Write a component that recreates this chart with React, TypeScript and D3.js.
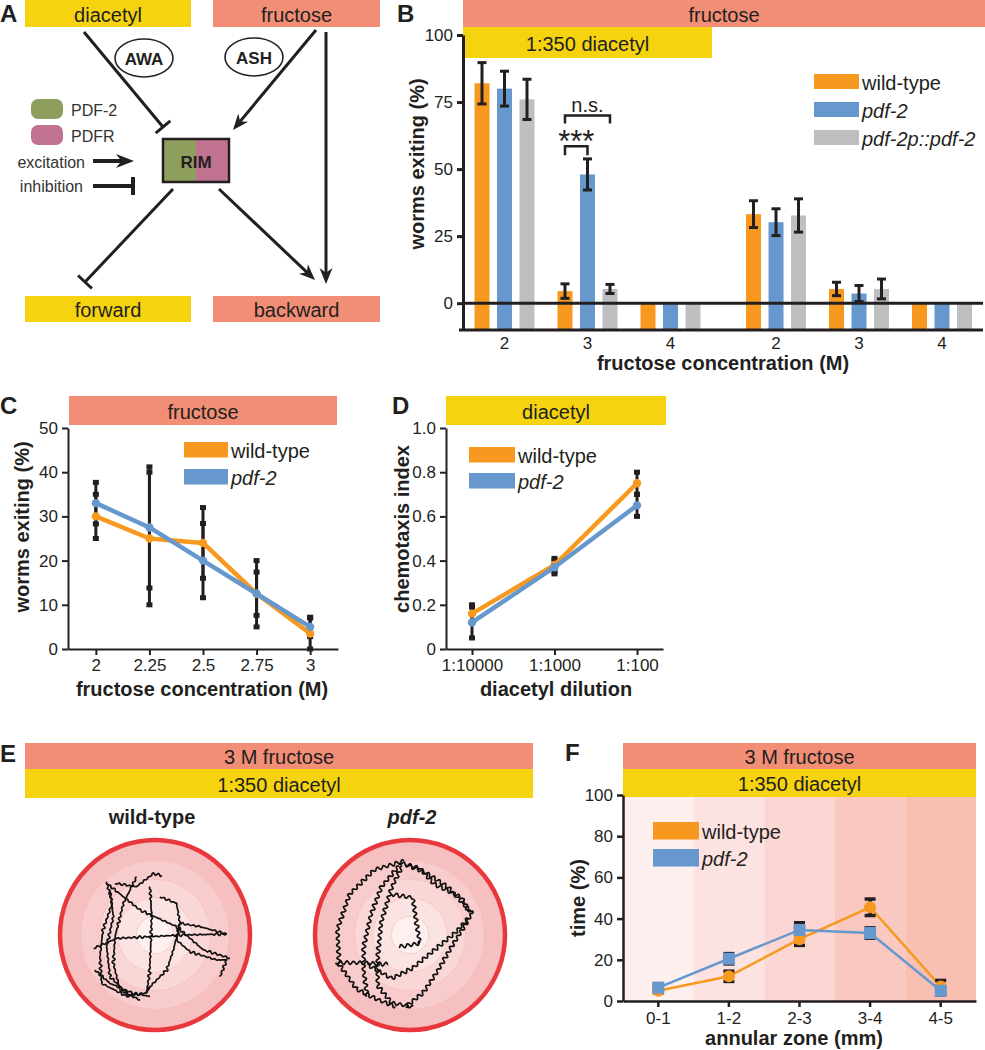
import { useEffect, useRef } from 'react';
import * as d3 from 'd3';

type Pt = [number, number];
type G = d3.Selection<SVGGElement, unknown, null, undefined>;

const FONT = "'Liberation Sans', Arial, Helvetica, sans-serif";
const INK = '#231f20';
const YELLOW = '#f6d30f';
const SALMON = '#f28e75';
const ORANGE = '#f7991f';
const BLUE = '#6698cd';
const GRAY = '#bdbfc1';
const GREEN = '#8e9e5c';
const PINK = '#c07290';
const RED = '#e8383d';

// ---- B: % worms exiting, bars
const genotypesB = ['wild-type', 'pdf-2', 'pdf-2p::pdf-2'];
const colorsB = [ORANGE, BLUE, GRAY];
const conditionsB = ['with diacetyl', 'fructose only'];
const concentrationsB = ['2', '3', '4'];
const wtExitDia = [82, 4.5, 0];
const pdf2ExitDia = [80, 48, 0];
const rescueExitDia = [76, 5.3, 0];
const wtErrDia = [7.7, 2.7, 0];
const pdf2ErrDia = [6.5, 5.8, 0];
const rescueErrDia = [7.5, 1.7, 0];
const wtExitNoDia = [33.2, 5.3, 0];
const pdf2ExitNoDia = [30.2, 3.6, 0];
const rescueExitNoDia = [32.7, 5.3, 0];
const wtErrNoDia = [5, 2.5, 0];
const pdf2ErrNoDia = [5, 3, 0];
const rescueErrNoDia = [6.2, 3.7, 0];
const ticksB = [0, 25, 50, 75, 100];

// ---- C: fructose dose response
const concC = [2, 2.25, 2.5, 2.75, 3];
const wtExitC = [30, 25, 24, 12.5, 3.5];
const wtErrC = [5, 15, 8, 7.5, 3.5];
const pdf2ExitC = [33, 27.5, 20, 12.5, 5];
const pdf2ErrC = [4.7, 13.7, 8.4, 4.9, 2.2];
const ticksC = [0, 10, 20, 30, 40, 50];

// ---- D: diacetyl chemotaxis
const dilutionsD = ['1:10000', '1:1000', '1:100'];
const wtCiD = [0.16, 0.38, 0.75];
const wtCiErrD = [0.04, 0.03, 0.05];
const pdf2CiD = [0.12, 0.37, 0.65];
const pdf2CiErrD = [0.07, 0.03, 0.05];
const ticksD = [0, 0.2, 0.4, 0.6, 0.8, 1.0];

// ---- E: worm tracks (mm from plate centre, y down)
const zoneFillsE = ['#fef0ef', '#fce3e3', '#fad7d7', '#f8cbcc', '#f6bfc0'];
const wtTracks: Pt[][] = [
  [[-2.6, -2.87], [-2.3, -1.7], [-2.8, -0.27], [-2.96, 1.16], [-2.87, 2.6], [-1.5, 3.3], [-0.45, 3.1], [-0.27, 2.8]],
  [[-2.15, -2.78], [-0.99, -2.6], [-0.09, -3.3], [0.36, -3.2]],
  [[-0.99, -3.13], [-1.7, -1.7], [-2.15, 0.09], [-2.24, 1.52], [-1.88, 2.96], [-0.8, 3.5]],
  [[-0.27, -2.6], [-0.18, -0.99], [-0.23, 0.63], [-0.3, 2.06], [-0.45, 3.14]],
  [[-3.3, 0.72], [-2.06, 0.18], [-0.27, 0.09], [1.43, 0], [3.85, -0.05]],
  [[3.85, -0.05], [2.42, -0.45], [1.34, -0.63], [1.16, 0.27], [1.88, 0.9], [3.31, 1.34], [3.85, 1.34], [3.5, 2.24]],
  [[-2.6, -2.78], [-0.8, -1.34], [1.16, -0.45], [2.6, 0.8], [4.03, 1.25]],
  [[0.27, -2.06], [1.16, -1.7], [1.34, -0.63], [0.99, 0.8], [0.63, 1.88], [-0.45, 2.96]],
  [[-3.23, 1.88], [-2.42, 2.6], [-1.16, 3.14], [-0.27, 3.3]],
  [[-2.42, -2.42], [-2.24, -0.99], [-2.6, 0.63], [-2.42, 2.24], [-1.34, 3.31]],
];
const pdf2Tracks: Pt[][] = [
  [[-0.32, -3.98], [-1.92, -3.5], [-3.25, -2.19], [-3.9, -0.3], [-3.81, 1.58], [-2.87, 2.91], [-1.74, 3.47], [-0.79, 3.85]],
  [[-0.6, -3.7], [-1.55, -2.57], [-2.11, -1.06], [-2.49, 0.64], [-2.49, 1.96], [-2.3, 3.28]],
  [[-0.42, -3.7], [-0.98, -2.57], [-1.55, -0.68], [-1.74, 1.21], [-1.74, 2.72], [-0.98, 3.66], [0.15, 3.85]],
  [[-0.23, -3.79], [0.91, -3.32], [2.04, -2.57], [3.36, -1.15]],
  [[3.36, -1.15], [2.42, -0.11], [1.28, 0.83], [0.15, 1.77], [-0.98, 2.34], [-2.3, 1.58]],
  [[3.17, -0.87], [2.23, 0.64], [1.47, 1.96], [0.72, 3.09], [-0.23, 3.85]],
  [[-0.98, -2.19], [0.15, -2.0], [0.34, -0.68], [0.53, 0.45], [-0.6, 0.64]],
  [[-4.0, 1.49], [-2.68, 1.49], [-1.17, 1.58]],
  [[-0.6, -3.89], [0.53, -3.6], [1.28, -2.75], [2.79, -2.0], [3.17, -1.25]],
];

// ---- F: time per annular zone
const zonesF = ['0-1', '1-2', '2-3', '3-4', '4-5'];
const zoneFillsF = ['#fdefee', '#fce2e1', '#fbd6d2', '#f9c9c1', '#f8c0b2'];
const wtTimeF = [5, 12, 30, 45.5, 7];
const wtTimeErrF = [1, 2.5, 3, 4, 3];
const pdf2TimeF = [6.5, 20.5, 34.5, 33, 5];
const pdf2TimeErrF = [1, 2.5, 3.5, 2.5, 2];
const ticksF = [0, 20, 40, 60, 80, 100];

// ---------- helpers
function header(g: G, x0: number, y0: number, x1: number, y1: number, fill: string, label: string) {
  g.append('rect').attr('x', x0).attr('y', y0).attr('width', x1 - x0).attr('height', y1 - y0).attr('fill', fill);
  g.append('text')
    .attr('x', (x0 + x1) / 2).attr('y', (y0 + y1) / 2 + 1)
    .attr('text-anchor', 'middle').attr('dominant-baseline', 'central')
    .attr('font-size', 20).attr('fill', INK).text(label);
}

function letter(g: G, ch: string, x: number, y: number) {
  g.append('text').attr('x', x).attr('y', y).attr('font-size', 24).attr('font-weight', 'bold').attr('fill', INK).text(ch);
}

function styleAxis(a: any, w: number) {
  a.attr('font-family', FONT);
  a.select('.domain').attr('stroke', INK).attr('stroke-width', w);
  a.selectAll('.tick line').attr('stroke', INK).attr('stroke-width', w);
  a.selectAll('.tick text').attr('fill', INK).attr('font-size', 17);
}

function ylabel(g: G, text: string, x: number, y: number) {
  g.append('text').attr('transform', `translate(${x},${y}) rotate(-90)`)
    .attr('text-anchor', 'middle').attr('dominant-baseline', 'central')
    .attr('font-size', 20).attr('font-weight', 'bold').attr('fill', INK).text(text);
}

function xlabel(g: G, text: string, x: number, y: number) {
  g.append('text').attr('x', x).attr('y', y)
    .attr('text-anchor', 'middle').attr('dominant-baseline', 'central')
    .attr('font-size', 20).attr('font-weight', 'bold').attr('fill', INK).text(text);
}

function legend(g: G, x: number, y: number, w: number, h: number, gap: number, labels: string[], colors: string[]) {
  labels.forEach((lab, i) => {
    g.append('rect').attr('x', x).attr('y', y + i * gap).attr('width', w).attr('height', h).attr('fill', colors[i]);
    g.append('text').attr('x', x + w + 3).attr('y', y + i * gap + h / 2 + 1)
      .attr('dominant-baseline', 'central').attr('font-size', 20).attr('fill', INK)
      .attr('font-style', lab === 'wild-type' ? 'normal' : 'italic').text(lab);
  });
}

function arrow(g: G, x0: number, y0: number, x1: number, y1: number, w = 3, len = 16, half = 6.5) {
  const L = Math.hypot(x1 - x0, y1 - y0);
  const ux = (x1 - x0) / L, uy = (y1 - y0) / L;
  const bx = x1 - ux * len, by = y1 - uy * len;
  g.append('line').attr('x1', x0).attr('y1', y0).attr('x2', x1 - ux * len * 0.6).attr('y2', y1 - uy * len * 0.6)
    .attr('stroke', INK).attr('stroke-width', w);
  const nx = bx + ux * len * 0.3, ny = by + uy * len * 0.3;
  g.append('polygon')
    .attr('points', `${x1},${y1} ${bx - uy * half},${by + ux * half} ${nx},${ny} ${bx + uy * half},${by - ux * half}`)
    .attr('fill', INK);
}

function tee(g: G, x0: number, y0: number, x1: number, y1: number, w = 3, half = 9) {
  const L = Math.hypot(x1 - x0, y1 - y0);
  const ux = (x1 - x0) / L, uy = (y1 - y0) / L;
  g.append('line').attr('x1', x0).attr('y1', y0).attr('x2', x1).attr('y2', y1).attr('stroke', INK).attr('stroke-width', w);
  g.append('line').attr('x1', x1 - uy * half).attr('y1', y1 + ux * half).attr('x2', x1 + uy * half).attr('y2', y1 - ux * half)
    .attr('stroke', INK).attr('stroke-width', w);
}

// wiggly worm track along a polyline (stroke styling only)
function wavy(pts: Pt[], amp: number, wl: number, jitter: number): string {
  const out: Pt[] = [];
  let s = 0;
  for (let i = 0; i < pts.length - 1; i++) {
    const [x0, y0] = pts[i];
    const [x1, y1] = pts[i + 1];
    const len = Math.hypot(x1 - x0, y1 - y0);
    const nx = -(y1 - y0) / len, ny = (x1 - x0) / len;
    const n = Math.max(1, Math.ceil(len / 0.7));
    for (let k = 0; k < n; k++) {
      const t = k / n;
      const d = s + t * len;
      const a = amp * (1 - jitter + jitter * Math.sin(d / 11) * Math.sin(d / 4.3));
      const off = a * Math.sin((2 * Math.PI * d) / wl);
      out.push([x0 + (x1 - x0) * t + nx * off, y0 + (y1 - y0) * t + ny * off]);
    }
    s += len;
  }
  out.push(pts[pts.length - 1]);
  return d3.line()(out) ?? '';
}

// ---------- panels
function drawA(g: G) {
  letter(g, 'A', 0, 22);
  header(g, 25, 0, 191, 27, YELLOW, 'diacetyl');
  header(g, 213, 0, 380, 27, SALMON, 'fructose');
  header(g, 25, 296, 191, 322, YELLOW, 'forward');
  header(g, 213, 296, 380, 322, SALMON, 'backward');

  [['AWA', 144, 58], ['ASH', 254, 57]].forEach(([t, x, y]) => {
    g.append('ellipse').attr('cx', x).attr('cy', y).attr('rx', 29).attr('ry', 19)
      .attr('fill', '#fff').attr('stroke', INK).attr('stroke-width', 1.6);
    g.append('text').attr('x', x).attr('y', y as number + 1).attr('text-anchor', 'middle').attr('dominant-baseline', 'central')
      .attr('font-size', 17).attr('font-weight', 'bold').attr('fill', INK).text(t as string);
  });

  tee(g, 84, 32, 163, 127, 3, 9.5);
  arrow(g, 316, 30, 233, 130);
  arrow(g, 326, 32, 326, 284);
  tee(g, 173, 189, 85, 282, 3, 9.5);
  arrow(g, 219, 189, 315, 280);

  g.append('rect').attr('x', 163).attr('y', 139).attr('width', 33).attr('height', 43).attr('fill', GREEN);
  g.append('rect').attr('x', 196).attr('y', 139).attr('width', 33).attr('height', 43).attr('fill', PINK);
  g.append('rect').attr('x', 163).attr('y', 139).attr('width', 66).attr('height', 43)
    .attr('fill', 'none').attr('stroke', INK).attr('stroke-width', 2.5);
  g.append('text').attr('x', 196).attr('y', 162).attr('text-anchor', 'middle').attr('dominant-baseline', 'central')
    .attr('font-size', 17).attr('font-weight', 'bold').attr('fill', INK).text('RIM');

  [['PDF-2', GREEN, 99], ['PDFR', PINK, 125]].forEach(([t, c, y]) => {
    g.append('rect').attr('x', 31).attr('y', y).attr('width', 32).attr('height', 20).attr('rx', 7).attr('fill', c as string);
    g.append('text').attr('x', 71).attr('y', (y as number) + 11).attr('dominant-baseline', 'central')
      .attr('font-size', 16).attr('fill', '#333').text(t as string);
  });
  g.append('text').attr('x', 85).attr('y', 162).attr('text-anchor', 'end').attr('dominant-baseline', 'central')
    .attr('font-size', 16).attr('fill', '#333').text('excitation');
  arrow(g, 93, 161, 134, 161, 4, 18, 7);
  g.append('text').attr('x', 83).attr('y', 186).attr('text-anchor', 'end').attr('dominant-baseline', 'central')
    .attr('font-size', 16).attr('fill', '#333').text('inhibition');
  tee(g, 93, 186, 133, 186, 4, 9);
}

function drawB(g: G) {
  letter(g, 'B', 397, 22);
  header(g, 463, 0, 985, 27, SALMON, 'fructose');
  header(g, 463, 27, 712, 58, YELLOW, '1:350 diacetyl');

  const y = d3.scaleLinear().domain([-10, 100]).range([330, 35]);
  const xCond = d3.scaleBand().domain(conditionsB).range([463, 983.5]).paddingInner(0.083);
  const xConc = d3.scaleBand().domain(concentrationsB).range([0, xCond.bandwidth()]);
  const xGeno = d3.scaleBand().domain(genotypesB).range([-30, 30]).paddingInner(0.333);
  const center = (c: string, k: string) => (xCond(c) ?? 0) + (xConc(k) ?? 0) + xConc.bandwidth() / 2;

  const series = [
    { cond: conditionsB[0], geno: genotypesB[0], v: wtExitDia, e: wtErrDia },
    { cond: conditionsB[0], geno: genotypesB[1], v: pdf2ExitDia, e: pdf2ErrDia },
    { cond: conditionsB[0], geno: genotypesB[2], v: rescueExitDia, e: rescueErrDia },
    { cond: conditionsB[1], geno: genotypesB[0], v: wtExitNoDia, e: wtErrNoDia },
    { cond: conditionsB[1], geno: genotypesB[1], v: pdf2ExitNoDia, e: pdf2ErrNoDia },
    { cond: conditionsB[1], geno: genotypesB[2], v: rescueExitNoDia, e: rescueErrNoDia },
  ];
  const bars = series.flatMap((s) =>
    concentrationsB.map((k, i) => ({
      x: center(s.cond, k) + (xGeno(s.geno) ?? 0),
      v: s.v[i], e: s.e[i],
      color: colorsB[genotypesB.indexOf(s.geno)],
    })),
  );
  const bw = xGeno.bandwidth();
  g.selectAll('rect.bar').data(bars).join('rect').attr('class', 'bar')
    .attr('x', (d) => d.x).attr('width', bw)
    .attr('y', (d) => y(d.v)).attr('height', (d) => y(-10) - y(d.v))
    .attr('fill', (d) => d.color);

  const eb = bars.filter((d) => d.e > 0);
  g.selectAll('line.eb').data(eb).join('line').attr('class', 'eb')
    .attr('x1', (d) => d.x + bw / 2).attr('x2', (d) => d.x + bw / 2)
    .attr('y1', (d) => y(d.v - d.e)).attr('y2', (d) => y(d.v + d.e))
    .attr('stroke', INK).attr('stroke-width', 3);
  eb.forEach((d) => {
    [d.v - d.e, d.v + d.e].forEach((val) => {
      g.append('line').attr('x1', d.x + bw / 2 - 4.5).attr('x2', d.x + bw / 2 + 4.5)
        .attr('y1', y(val)).attr('y2', y(val)).attr('stroke', INK).attr('stroke-width', 3);
    });
  });

  g.append('line').attr('x1', 463).attr('x2', 983).attr('y1', y(0)).attr('y2', y(0)).attr('stroke', INK).attr('stroke-width', 3);
  g.append('line').attr('x1', 459).attr('x2', 983).attr('y1', y(-10)).attr('y2', y(-10)).attr('stroke', INK).attr('stroke-width', 3);

  const ax = g.append('g').attr('transform', 'translate(463,0)')
    .call(d3.axisLeft(y).tickValues(ticksB).tickSize(6).tickSizeOuter(0).tickPadding(4));
  styleAxis(ax, 3);

  conditionsB.forEach((c) => concentrationsB.forEach((k) => {
    g.append('text').attr('x', center(c, k)).attr('y', 343).attr('text-anchor', 'middle')
      .attr('dominant-baseline', 'central').attr('font-size', 17).attr('fill', INK).text(k);
  }));
  xlabel(g, 'fructose concentration (M)', 723, 363);
  ylabel(g, 'worms exiting (%)', 417, 164);

  // significance brackets
  const c3 = center(conditionsB[0], '3');
  const bx = (gname: string) => c3 + (xGeno(gname) ?? 0) + bw / 2;
  const brackets = [
    { a: genotypesB[0], b: genotypesB[1], level: 58.5, drop: 9, label: '***', size: 31, dy: 6 },
    { a: genotypesB[0], b: genotypesB[2], level: 70, drop: 8, label: 'n.s.', size: 20, dy: -3 },
  ];
  brackets.forEach((br) => {
    const x1 = bx(br.a), x2 = bx(br.b), yy = y(br.level);
    g.append('path').attr('d', `M${x1},${yy + br.drop}V${yy}H${x2}V${yy + br.drop}`)
      .attr('fill', 'none').attr('stroke', INK).attr('stroke-width', 2.5);
    g.append('text').attr('x', (x1 + x2) / 2).attr('y', yy + br.dy).attr('text-anchor', 'middle')
      .attr('font-size', br.size).attr('fill', INK).text(br.label);
  });

  legend(g, 814, 74, 45, 15, 28, genotypesB, colorsB);
}

function linePanel(
  g: G,
  xs: number[],
  y: d3.ScaleLinear<number, number>,
  series: { v: number[]; e: number[]; color: string }[],
  capW: number, capH: number,
) {
  series.forEach((s) => {
    s.v.forEach((v, i) => {
      const x = xs[i];
      g.append('line').attr('x1', x).attr('x2', x).attr('y1', y(Math.max(0, v - s.e[i]))).attr('y2', y(v + s.e[i]))
        .attr('stroke', INK).attr('stroke-width', 3);
      [Math.max(0, v - s.e[i]), v + s.e[i]].forEach((val) => {
        g.append('rect').attr('x', x - capW / 2).attr('y', y(val) - capH / 2).attr('width', capW).attr('height', capH).attr('fill', INK);
      });
    });
  });
  series.forEach((s) => {
    const pts: Pt[] = s.v.map((v, i) => [xs[i], y(v)]);
    g.append('path').attr('d', d3.line()(pts) ?? '').attr('fill', 'none').attr('stroke', s.color)
      .attr('stroke-width', 4.5).attr('stroke-linejoin', 'round');
    g.selectAll(null).data(pts).join('circle').attr('cx', (d) => d[0]).attr('cy', (d) => d[1]).attr('r', 4.2).attr('fill', s.color);
  });
}

function drawC(g: G) {
  letter(g, 'C', 0, 414);
  header(g, 69, 396, 337, 425, SALMON, 'fructose');
  const x = d3.scaleLinear().domain([1.87, 3.13]).range([68, 338]);
  const y = d3.scaleLinear().domain([0, 50]).range([649, 428]);
  const ay = g.append('g').attr('transform', 'translate(68,0)')
    .call(d3.axisLeft(y).tickValues(ticksC).tickSize(6).tickSizeOuter(0).tickPadding(4));
  styleAxis(ay, 2);
  const ax = g.append('g').attr('transform', 'translate(0,649)')
    .call(d3.axisBottom(x).tickValues(concC).tickFormat((d) => String(d)).tickSize(6).tickSizeOuter(0).tickPadding(4));
  styleAxis(ax, 2);
  linePanel(g, concC.map((c) => x(c)), y, [
    { v: wtExitC, e: wtErrC, color: ORANGE },
    { v: pdf2ExitC, e: pdf2ErrC, color: BLUE },
  ], 6, 5);
  xlabel(g, 'fructose concentration (M)', 202, 689);
  ylabel(g, 'worms exiting (%)', 22, 527);
  legend(g, 184, 442, 44, 15.5, 27, ['wild-type', 'pdf-2'], [ORANGE, BLUE]);
}

function drawD(g: G) {
  letter(g, 'D', 392, 414);
  header(g, 446, 396, 666, 425, YELLOW, 'diacetyl');
  const x = d3.scalePoint().domain(dilutionsD).range([446, 663]).padding(0.315);
  const y = d3.scaleLinear().domain([0, 1]).range([649, 428]);
  const ay = g.append('g').attr('transform', 'translate(446,0)')
    .call(d3.axisLeft(y).tickValues(ticksD).tickFormat((d) => (+d === 0 ? '0' : d3.format('.1f')(+d)))
      .tickSize(6).tickSizeOuter(0).tickPadding(4));
  styleAxis(ay, 2);
  const ax = g.append('g').attr('transform', 'translate(0,649)')
    .call(d3.axisBottom(x).tickSize(6).tickSizeOuter(0).tickPadding(4));
  styleAxis(ax, 2);
  linePanel(g, dilutionsD.map((d) => x(d) ?? 0), y, [
    { v: wtCiD, e: wtCiErrD, color: ORANGE },
    { v: pdf2CiD, e: pdf2CiErrD, color: BLUE },
  ], 6, 5);
  xlabel(g, 'diacetyl dilution', 556, 689);
  ylabel(g, 'chemotaxis index', 402, 529);
  legend(g, 469, 447, 46, 15.5, 26, ['wild-type', 'pdf-2'], [ORANGE, BLUE]);
}

function plate(g: G, cx: number, cy: number, tracks: Pt[][], amp: number, wl: number, jitter: number) {
  const r = d3.scaleLinear().domain([-5, 5]).range([-93, 93]);
  for (let k = 5; k >= 1; k--) {
    g.append('circle').attr('cx', cx).attr('cy', cy).attr('r', r(k) - r(0))
      .attr('fill', zoneFillsE[k - 1]).attr('stroke', '#f6b9ae').attr('stroke-width', 0.8).attr('stroke-opacity', 0.7);
  }
  g.append('circle').attr('cx', cx).attr('cy', cy).attr('r', 95).attr('fill', 'none').attr('stroke', RED).attr('stroke-width', 4.5);
  tracks.forEach((t) => {
    const pts: Pt[] = t.map(([a, b]) => [cx + r(a), cy + r(b)]);
    g.append('path').attr('d', wavy(pts, amp, wl, jitter)).attr('fill', 'none').attr('stroke', '#111')
      .attr('stroke-width', 1.7).attr('stroke-linejoin', 'round');
  });
}

function drawE(g: G) {
  letter(g, 'E', 0, 762);
  header(g, 25, 743, 533, 769, SALMON, '3 M fructose');
  header(g, 25, 769, 533, 798, YELLOW, '1:350 diacetyl');
  g.append('text').attr('x', 152).attr('y', 824).attr('text-anchor', 'middle').attr('font-size', 20)
    .attr('font-weight', 'bold').attr('fill', INK).text('wild-type');
  g.append('text').attr('x', 412).attr('y', 824).attr('text-anchor', 'middle').attr('font-size', 20)
    .attr('font-weight', 'bold').attr('font-style', 'italic').attr('fill', INK).text('pdf-2');
  plate(g, 155, 935, wtTracks, 1.4, 5.5, 0.6);
  plate(g, 410, 935, pdf2Tracks, 2, 6.5, 0.15);
}

function drawF(g: G) {
  letter(g, 'F', 565, 761);
  const x = d3.scaleBand().domain(zonesF).range([623, 976]);
  const y = d3.scaleLinear().domain([0, 100]).range([1001, 795]);
  g.selectAll('rect.zone').data(zonesF).join('rect').attr('class', 'zone')
    .attr('x', (d) => x(d) ?? 0).attr('width', x.bandwidth())
    .attr('y', y(100)).attr('height', y(0) - y(100))
    .attr('fill', (_, i) => zoneFillsF[i]);
  header(g, 623, 743, 976, 769, SALMON, '3 M fructose');
  header(g, 623, 769, 976, 797, YELLOW, '1:350 diacetyl');

  const ay = g.append('g').attr('transform', 'translate(623,0)')
    .call(d3.axisLeft(y).tickValues(ticksF).tickSize(6).tickSizeOuter(0).tickPadding(4));
  styleAxis(ay, 2.5);
  const ax = g.append('g').attr('transform', 'translate(0,1001)')
    .call(d3.axisBottom(x).tickSize(6).tickSizeOuter(0).tickPadding(5));
  styleAxis(ax, 2.5);

  const cxs = zonesF.map((z) => (x(z) ?? 0) + x.bandwidth() / 2);
  const series = [
    { v: wtTimeF, e: wtTimeErrF, color: ORANGE, shape: 'circle' },
    { v: pdf2TimeF, e: pdf2TimeErrF, color: BLUE, shape: 'square' },
  ];
  series.forEach((s) => {
    g.append('path').attr('d', d3.line()(s.v.map((v, i) => [cxs[i], y(v)] as Pt)) ?? '')
      .attr('fill', 'none').attr('stroke', s.color).attr('stroke-width', 2.5);
  });
  series.forEach((s) => {
    s.v.forEach((v, i) => {
      const xx = cxs[i];
      g.append('line').attr('x1', xx).attr('x2', xx).attr('y1', y(v - s.e[i])).attr('y2', y(v + s.e[i]))
        .attr('stroke', INK).attr('stroke-width', 3.5);
      [v - s.e[i], v + s.e[i]].forEach((val) => {
        g.append('line').attr('x1', xx - 5.5).attr('x2', xx + 5.5).attr('y1', y(val)).attr('y2', y(val))
          .attr('stroke', INK).attr('stroke-width', 3.5);
      });
    });
  });
  series.forEach((s) => {
    s.v.forEach((v, i) => {
      if (s.shape === 'circle') {
        g.append('circle').attr('cx', cxs[i]).attr('cy', y(v)).attr('r', 6).attr('fill', s.color);
      } else {
        g.append('rect').attr('x', cxs[i] - 6).attr('y', y(v) - 6).attr('width', 12).attr('height', 12).attr('fill', s.color);
      }
    });
  });
  xlabel(g, 'annular zone (mm)', 794, 1038);
  ylabel(g, 'time (%)', 578, 898);
  legend(g, 653, 822, 46, 17.5, 27, ['wild-type', 'pdf-2'], [ORANGE, BLUE]);
}

export default function App() {
  const ref = useRef<SVGSVGElement>(null);
  useEffect(() => {
    document.body.style.margin = '0';
    if (!ref.current) return;
    const svg = d3.select(ref.current);
    svg.selectAll('*').remove();
    const root = svg.append('g').attr('font-family', FONT) as unknown as G;
    drawA(root.append('g'));
    drawB(root.append('g'));
    drawC(root.append('g'));
    drawD(root.append('g'));
    drawE(root.append('g'));
    drawF(root.append('g'));
  }, []);
  return <svg ref={ref} width={985} height={1050} style={{ display: 'block', background: '#fff' }} />;
}
